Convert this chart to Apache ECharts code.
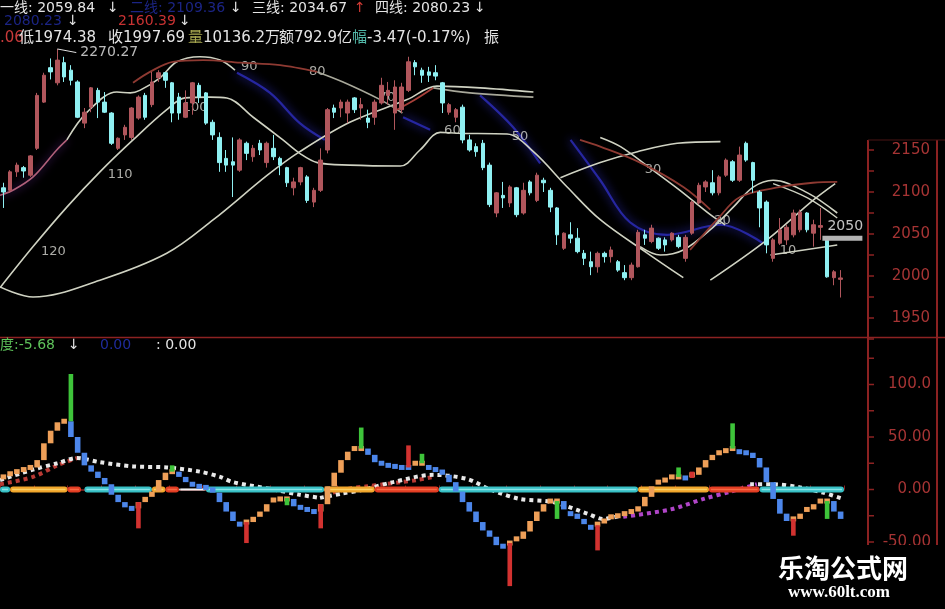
<!DOCTYPE html>
<html><head><meta charset="utf-8">
<script src="https://cdn.jsdelivr.net/npm/echarts@6/dist/echarts.min.js"></script>
<style>html,body{margin:0;padding:0;background:#000;}#c{width:945px;height:609px;}</style>
</head><body><div id="c"></div>
<script>
// ---------- price panel data (index daily bars) ----------
const categories = Array.from({length: 125}, (_, i) => String(i + 1));
const openVals = [2105,2102,2124,2129,2120,2152,2207,2248,2230,2254,
2245,2231,2182,2201,2221,2207,2194,2152,2168,2165,
2188,2215,2204,2236,2242,2230,2213,2189,2206,2227,
2218,2183,2165,2140,2136,2126,2158,2142,2158,2135,
2152,2140,2129,2105,2112,2118,2088,2102,2150,2200,
2200,2194,2212,2200,2188,2189,2206,2215,2194,2198,
2221,2254,2245,2243,2242,2230,2195,2189,2201,2162,
2154,2158,2132,2075,2096,2087,2105,2075,2112,2090,
2114,2102,2081,2033,2049,2045,2027,2017,2011,2027,
2023,2017,2004,1998,2011,2049,2041,2045,2043,2043,
2046,2021,2051,2087,2106,2111,2099,2120,2136,2114,
2158,2135,2100,2088,2021,2039,2043,2049,2055,2075,
2051,2058,2045,1998,1996];
const closeVals = [2100,2124,2132,2125,2143,2215,2239,2243,2257,2237,
2233,2189,2195,2224,2207,2195,2158,2164,2177,2200,
2213,2189,2231,2242,2233,2194,2194,2206,2230,2213,
2182,2168,2135,2132,2132,2162,2146,2152,2150,2158,
2142,2132,2111,2112,2129,2090,2102,2138,2198,2195,
2207,2207,2198,2204,2183,2207,2227,2221,2225,2225,
2255,2249,2239,2239,2238,2206,2204,2198,2162,2150,
2148,2129,2085,2099,2093,2106,2073,2102,2099,2120,
2111,2082,2049,2051,2045,2029,2021,2011,2027,2023,
2031,2007,1998,2013,2052,2045,2057,2033,2037,2051,
2035,2046,2088,2108,2112,2099,2118,2138,2114,2144,
2138,2114,2081,2037,2043,2055,2058,2075,2076,2055,
2061,2060,1999,2005,1997.69];
const lowVals = [2081,2099,2118,2117,2118,2150,2206,2234,2227,2231,
2227,2188,2176,2195,2188,2194,2156,2150,2162,2162,
2186,2186,2201,2231,2224,2183,2186,2188,2192,2206,
2180,2162,2124,2124,2094,2124,2138,2136,2144,2129,
2138,2120,2106,2096,2108,2087,2082,2100,2146,2188,
2189,2182,2194,2186,2176,2180,2204,2204,2174,2194,
2219,2239,2230,2231,2233,2194,2192,2183,2158,2148,
2142,2126,2082,2070,2081,2082,2070,2073,2096,2088,
2100,2076,2037,2031,2039,2027,2013,2001,2004,2016,
2016,2005,1995,1995,2010,2037,2039,2031,2029,2041,
2033,2017,2049,2085,2100,2096,2096,2118,2112,2112,
2136,2099,2058,2027,2017,2037,2037,2046,2052,2052,
2035,2043,1998,1989,1974.38];
const highVals = [2111,2126,2135,2131,2144,2218,2242,2259,2270.27,2261,
2251,2233,2200,2225,2224,2219,2195,2165,2180,2201,
2215,2218,2243,2245,2243,2231,2218,2221,2231,2230,
2219,2186,2171,2150,2165,2164,2160,2156,2162,2160,
2168,2142,2130,2117,2130,2120,2105,2152,2200,2204,
2210,2210,2213,2212,2198,2210,2236,2231,2233,2230,
2261,2257,2248,2249,2251,2231,2206,2200,2204,2168,
2158,2162,2135,2100,2112,2108,2106,2111,2114,2123,
2117,2105,2082,2052,2064,2057,2031,2029,2029,2029,
2035,2019,2013,2016,2055,2055,2061,2046,2046,2052,
2049,2049,2090,2111,2114,2126,2120,2140,2138,2154,
2160,2136,2102,2090,2045,2069,2061,2079,2079,2076,
2067,2081,2046,2007,2007];

// moving-average style curves: [bar position, price]
const lineW1 = [[-0.5,1986],[4.4,2035],[9.4,2082],[14.3,2124],[19.2,2162],[24.2,2198],[26.9,2212],[30.6,2213],[33.1,2212],[37.0,2189],[41.4,2162],[43.9,2146],[46.5,2135],[51.3,2132],[58.8,2131],[61.7,2150],[64.7,2171],[67.2,2170],[74.6,2169],[78.5,2148],[83.5,2106],[88.4,2067],[95.4,2027],[100.7,1998]];
const lineW2 = [[-0.5,1987],[4.4,1975],[14.3,1995],[24.2,2027],[31.1,2067],[39.1,2120],[43.9,2148],[51.3,2183],[59.8,2210],[64.2,2226],[70.6,2224],[78.5,2219]];
const lineW3a = [[-0.5,2096],[1.4,2102],[4.4,2118],[7.9,2150],[9.4,2162]];
const lineW3b = [[9.4,2162],[12.4,2195],[16.8,2219],[18.8,2218],[20.2,2221],[23.2,2236],[25.7,2255],[29.1,2261],[32.1,2257],[34.3,2245]];
const lineR1 = [[19.2,2230],[21.7,2243],[25.1,2255],[29.6,2257],[35.1,2254],[41.0,2251],[46.5,2243]];
const lineG1 = [[46.5,2243],[50.3,2231],[55.8,2210],[59.1,2194]];
const lineR2 = [[58.3,2198],[61.0,2210],[63.7,2224]];
const lineG2 = [[63.7,2224],[69.1,2218],[78.5,2213]];
const lineB1 = [[34.6,2242],[39.5,2218],[43.9,2182],[47.6,2162]];
const lineB2 = [[59.2,2189],[63.2,2174]];
const lineB3 = [[70.6,2215],[75.5,2177],[79.5,2134]];
const lineB4 = [[84.0,2162],[88.4,2114],[92.8,2064],[98.3,2049],[106.2,2061],[112.5,2039]];
const lineW4 = [[82.5,2117],[88.4,2135],[93.9,2148],[99.8,2158],[106.2,2160]];
const lineW5 = [[88.4,2165],[91.4,2154],[96.2,2126],[100.2,2102],[104.7,2073],[106.9,2061]];
const lineW6 = [[94.3,2035],[97.3,2025],[100.7,2031],[105.1,2058],[108.1,2082],[111.1,2106],[114.0,2114],[119.1,2099],[123.5,2075]];
const lineW7 = [[114.0,2110],[119.1,2093],[123.5,2069]];
const lineW8 = [[104.7,1995],[113.1,2043],[119.9,2090],[123.2,2110]];
const lineW9 = [[113.6,2025],[123.5,2037]];
const lineR3 = [[101.7,2031],[105.7,2067],[109.1,2094],[115.1,2106],[119.9,2111],[123.5,2112]];
const lineR4 = [[85.4,2162],[88.4,2154],[94.3,2135],[100.7,2106],[104.7,2079]];

const maLabelText = ['120','110','100','90','80','70','60','50','30','20','10'];
const maLabelX = [7.4,17.3,28.4,36.4,46.5,56.8,66.5,76.5,96.2,106.5,116.2];
const maLabelY = [2029,2121,2201,2249,2243,2212,2173,2166,2127,2066,2030];
const highMark = [[8,2270.27],[10.8,2266]];
const priceMarkLabel = '2050';
const priceMarkBar = [121.3, 2045];
const priceMarkText = [121.6, 2059];

// ---------- indicator panel data ----------
const stepVals = [12,15,17,19,21,28,44,56,64,65, 50,35,23,17,11,5,-5,-12,-17,-18,
-12,-7,-2,9,16,17,12,7,5,3, 2,-3,-12,-21,-30,-33,-31,-26,-21,-14,
-10,-9,-9,-16,-17,-19,-21,-14,3,16, 28,36,39,39,33,26,25,23,22,21,
21,25,25,21,19,14,7,-2,-12,-21, -31,-39,-45,-53,-54,-51,-47,-40,-30,-21,
-14,-11,-11,-19,-23,-28,-33,-36,-33,-30, -26,-25,-23,-21,-16,-7,3,7,9,12,
12,11,14,21,28,33,35,37,39,36, 35,30,21,7,-9,-23,-30,-28,-23,-19,
-14,-11,-11,-21,-28];
const spikeIdx  = [10,20,25,36,42,47,53,60,62,75,82,88,100,102,108,117,122];
const spikeFrom = [65,-12,17,-31,-8,-14,39,21,25,-51,-11,-34,12,11,39,-28,-11];
const spikeTo   = [110,-37,23,-51,-15,-37,59,42,34,-92,-28,-58,21,17,63,-44,-28];
const spikeKind = [1,0,1,0,1,0,1,0,1,0,1,0,1,0,1,0,1];
const bandStart = [-0.5,1,9.5,12,22,24,26,30,47.5,55,64.5,94,104.5,112];
const bandEnd   = [1,9.5,11.5,22,24,26,30,47.5,55,64.5,94,104.5,112,124.5];
const bandKind  = [0,1,2,0,1,2,3,0,1,2,0,1,2,0];
const dotsWhiteA = [[-0.5,9],[4.4,19],[8,25],[10.9,30],[14.3,26],[19.2,22],[24.2,21],[29.1,17],[32.1,12],[34,7],[40,0],[43.9,-5],[46.9,-8]];
const dotsRedA = [[-0.5,5],[4.4,12],[8,23],[10.9,30]];
const dotsWhiteB = [[46.9,-8],[50,-4],[53.5,0],[57.7,7],[63.7,14],[68.7,10],[72.1,0],[76.5,-9],[81.4,-12],[86.5,-23],[88.8,-28],[91.4,-25]];
const dotsRedB = [[48.8,-3],[51.3,1],[53.8,3],[56.3,5],[58.8,7],[61.2,9],[63.7,12]];
const dotsPurple = [[91.8,-26],[98.8,-19],[103.7,-9],[107.7,-2],[111.6,5]];
const dotsWhiteC = [[110.6,5],[114,5],[118,2],[121.4,-3],[124.4,-9]];

const priceTicks = [1925,1950,1975,2000,2025,2050,2075,2100,2125,2150];
const priceLabels = [1950,2000,2050,2100,2150];
const indTicks = [-100,-75,-50,-25,0,25,50,75,100,125];
const indLabels = [-50,0,50,100];

// ---------- build ----------
const candleData = openVals.map((o, i) => [o, closeVals[i], lowVals[i], highVals[i]]);
let lastDir = 1;
const stepData = stepVals.map((v, i) => {
  const p = i > 0 ? stepVals[i - 1] : v;
  if (v > p) lastDir = 1; else if (v < p) lastDir = -1;
  return [i, p, v, lastDir];
});
const spikeData = spikeIdx.map((x, i) => [x, spikeFrom[i], spikeTo[i], spikeKind[i]]);
const bandData = bandStart.map((s, i) => [s, bandEnd[i], bandKind[i]]);

const FONT = '"DejaVu Sans","Noto Sans CJK SC",sans-serif';
const WHITE_LINE = '#cfd2c2';
const RED_LINE = '#8e3a32';
const AXIS_RED = '#8c2222';
const LABEL_RED = '#a63434';

const annotationData = maLabelX.map((x, i) => ({
  value: [x, maLabelY[i]], name: maLabelText[i], z: 1
}));
annotationData.push({value: highMark[1], name: highVals[8].toFixed(2),
  label: {position: 'right', distance: 3, fontSize: 14, color: '#e8e8e8'}});
annotationData.push({value: priceMarkText, name: priceMarkLabel,
  label: {position: 'right', distance: 2, fontSize: 14, color: '#f2f2f2'}});

function curve(data, color, width, extra) {
  return Object.assign({
    type: 'line', xAxisIndex: 1, yAxisIndex: 0, data, smooth: 0.35,
    showSymbol: false, symbol: 'none', silent: true, z: 2,
    lineStyle: {color, width}
  }, extra || {});
}
function blueCurve(data) {
  return curve(data, '#2b2bb5', 2.2, {lineStyle: {color: '#2b2bb5', width: 2.2, shadowColor: '#3b3bff', shadowBlur: 10, opacity: 0.85}, z: 1});
}
function dots(data, color) {
  return {type: 'line', xAxisIndex: 3, yAxisIndex: 1, data, smooth: 0.3, showSymbol: false, symbol: 'none', silent: true, z: 3,
    lineStyle: {color, width: 4, type: [4, 4]}};
}
function tickSeries(values, xIdx, yIdx) {
  return {
    type: 'custom', xAxisIndex: xIdx, yAxisIndex: yIdx, silent: true, z: 20, clip: false,
    data: values.map(v => [124.5, v]), encode: {x: 0, y: 1},
    renderItem: (params, api) => {
      const p = api.coord([api.value(0), api.value(1)]);
      return {type: 'line', shape: {x1: p[0] + 24, y1: p[1], x2: p[0] + 30, y2: p[1]}, style: {stroke: AXIS_RED, lineWidth: 1.5}};
    }
  };
}

const series = [
  blueCurve(lineB1), blueCurve(lineB2), blueCurve(lineB3), blueCurve(lineB4),
  curve(lineW1, WHITE_LINE, 1.6), curve(lineW2, WHITE_LINE, 1.6),
  curve(lineW3a, '#b0607a', 1.6, {lineStyle: {color: '#b0607a', width: 1.6, shadowColor: '#6a2a9a', shadowBlur: 8}}),
  curve(lineW3b, WHITE_LINE, 1.6),
  curve(lineR1, RED_LINE, 1.8), curve(lineG1, '#a8a89a', 1.6), curve(lineR2, '#a8403a', 1.8), curve(lineG2, '#a8a89a', 1.6),
  curve(lineW4, WHITE_LINE, 1.6), curve(lineW5, WHITE_LINE, 1.6), curve(lineW6, WHITE_LINE, 1.6),
  curve(lineW7, WHITE_LINE, 1.4), curve(lineW8, WHITE_LINE, 1.6), curve(lineW9, WHITE_LINE, 1.6),
  curve(lineR3, RED_LINE, 1.8), curve(lineR4, RED_LINE, 1.8),
  {
    type: 'scatter', xAxisIndex: 1, yAxisIndex: 0, data: annotationData, symbolSize: 2, silent: true, z: 1,
    itemStyle: {color: 'rgba(0,0,0,0)'},
    label: {show: true, position: 'inside', formatter: p => p.name, color: '#d6d6d0', fontSize: 13, fontFamily: FONT}
  },
  {
    type: 'candlestick', xAxisIndex: 0, yAxisIndex: 0, data: candleData, barWidth: 4, z: 3, silent: true,
    itemStyle: {color: '#b0565c', color0: '#8ff0f2', borderColor: '#b0565c', borderColor0: '#8ff0f2', borderWidth: 1}
  },
  curve(highMark, '#e0e0e0', 1, {smooth: false, z: 4}),
  {
    type: 'custom', xAxisIndex: 1, yAxisIndex: 0, silent: true, z: 4, clip: false,
    data: [priceMarkBar], encode: {x: 0, y: 1},
    renderItem: (params, api) => {
      const p = api.coord([api.value(0), api.value(1)]);
      return {type: 'rect', shape: {x: p[0], y: p[1] - 2.5, width: 40, height: 5}, style: {fill: '#b4b4b4'}};
    }
  },
  tickSeries(priceTicks, 1, 0),
  // indicator panel
  dots(dotsRedA, '#b83a34'), dots(dotsWhiteA, '#e8e8e8'), dots(dotsRedB, '#b83a34'), dots(dotsWhiteB, '#e8e8e8'),
  dots(dotsPurple, '#b045c8'), dots(dotsWhiteC, '#e8e8e8'),
  {
    type: 'custom', xAxisIndex: 3, yAxisIndex: 1, data: bandData, silent: true, z: 4,
    encode: {x: [0, 1], y: 2},
    renderItem: (params, api) => {
      const k = api.value(2);
      const p1 = api.coord([api.value(0), 0]);
      const p2 = api.coord([api.value(1), 0]);
      const fills = ['#36bfc4', '#f0a52a', '#e23c22', '#cfcfcf'];
      const inner = ['#a6f2f4', '#ffe07a', '#ff7a52', '#ffffff'];
      const h = k === 3 ? 2 : 6;
      const w = Math.max(0, p2[0] - p1[0]);
      return {type: 'group', children: [
        {type: 'rect', shape: {x: p1[0], y: p1[1] - h / 2, width: w, height: h, r: h / 2}, style: {fill: fills[k]}},
        {type: 'rect', shape: {x: p1[0] + 2, y: p1[1] - 0.8, width: Math.max(0, w - 4), height: 1.6}, style: {fill: inner[k], opacity: 0.75}}
      ]};
    }
  },
  {
    type: 'custom', xAxisIndex: 3, yAxisIndex: 1, data: stepData, silent: true, z: 5,
    encode: {x: 0, y: [1, 2]},
    renderItem: (params, api) => {
      const x = api.value(0);
      const a = api.coord([x, api.value(1)]);
      const b = api.coord([x, api.value(2)]);
      const w = 5.6;
      let y0 = Math.min(a[1], b[1]);
      let h = Math.abs(a[1] - b[1]);
      if (h < 5) { y0 = b[1] - 2.5; h = 5; }
      return {type: 'rect', shape: {x: a[0] - w / 2, y: y0, width: w, height: h},
        style: {fill: api.value(3) > 0 ? '#ee9f58' : '#4c86ea'}};
    }
  },
  {
    type: 'custom', xAxisIndex: 3, yAxisIndex: 1, data: spikeData, silent: true, z: 6,
    encode: {x: 0, y: [1, 2]},
    renderItem: (params, api) => {
      const x = api.value(0);
      const a = api.coord([x, api.value(1)]);
      const b = api.coord([x, api.value(2)]);
      const w = 4.6;
      return {type: 'rect', shape: {x: a[0] - w / 2, y: Math.min(a[1], b[1]), width: w, height: Math.abs(a[1] - b[1])},
        style: {fill: api.value(3) ? '#3ec43a' : '#d23230'}};
    }
  },
  tickSeries(indTicks, 3, 1)
];

function txt(x, y, text, fill, size) {
  return {type: 'text', x, y, z: 50, silent: true,
    style: {text, fill, font: (size || 14) + 'px ' + FONT, verticalAlign: 'middle'}};
}
function blurTxt(x, y, text, fill, size) {
  return {type: 'text', x, y, z: 50, silent: true,
    style: {text, fill, font: (size || 14) + 'px ' + FONT, verticalAlign: 'middle', shadowColor: fill, shadowBlur: 6, opacity: 0.75}};
}

const graphic = [
  // frame lines
  {type: 'line', z: 20, silent: true, shape: {x1: 0, y1: 337.5, x2: 945, y2: 337.5}, style: {stroke: AXIS_RED, lineWidth: 1.5}},
  {type: 'line', z: 20, silent: true, shape: {x1: 868, y1: 140, x2: 868, y2: 609}, style: {stroke: AXIS_RED, lineWidth: 2}},
  {type: 'line', z: 20, silent: true, shape: {x1: 937, y1: 140, x2: 937, y2: 609}, style: {stroke: AXIS_RED, lineWidth: 2}},
  {type: 'line', z: 20, silent: true, shape: {x1: 868, y1: 140, x2: 945, y2: 140}, style: {stroke: '#4a1414', lineWidth: 1}},
  // header rows
  txt(0, 8, '一线: 2059.84', '#e4e4e4', 14), txt(107, 8, '↓', '#e4e4e4', 14),
  blurTxt(130, 8, '二线: 2109.36', '#2430b0', 14), txt(230, 8, '↓', '#e4e4e4', 14),
  txt(252, 8, '三线: 2034.67', '#e4e4e4', 14), txt(354, 8, '↑', '#d23a34', 14),
  txt(375, 8, '四线: 2080.23', '#e4e4e4', 14), txt(474, 8, '↓', '#e4e4e4', 14),
  blurTxt(4, 21, '2080.23', '#2430b0', 14), txt(67, 21, '↓', '#e4e4e4', 14),
  txt(118, 21, '2160.39', '#c83232', 14), txt(179, 21, '↓', '#e4e4e4', 14),
  txt(0, 38, '.06', '#c83a3a', 15), txt(19, 38, '低1974.38', '#e4e4e4', 15),
  txt(108, 38, '收1997.69', '#e4e4e4', 15), txt(188, 38, '量', '#a8a850', 15),
  txt(203, 38, '10136.2万', '#e4e4e4', 15), txt(279, 38, '额792.9亿', '#e4e4e4', 15),
  txt(352, 38, '幅', '#52b8a8', 15), txt(367, 38, '-3.47(-0.17%)', '#e4e4e4', 15),
  txt(484, 38, '振', '#e4e4e4', 15),
  // indicator header
  txt(0, 345, '度:-5.68', '#5ec35a', 14), txt(68, 345, '↓', '#e4e4e4', 14),
  blurTxt(100, 345, '0.00', '#2a3ad0', 14), txt(156, 345, ': 0.00', '#e4e4e4', 14),
  // watermark
  {type: 'rect', z: 60, silent: true, shape: {x: 768, y: 545, width: 177, height: 64}, style: {fill: '#000'}},
  {type: 'text', z: 61, silent: true, x: 843, y: 568,
    style: {text: '乐淘公式网', fill: '#ffffff', font: 'bold 26px "Noto Sans CJK SC",sans-serif', align: 'center', verticalAlign: 'middle'}},
  {type: 'text', z: 61, silent: true, x: 839, y: 593,
    style: {text: 'www.60lt.com', fill: '#ffffff', font: 'bold 17px "Liberation Serif",serif', align: 'center', verticalAlign: 'middle'}}
];

const option = {
  backgroundColor: '#000',
  animation: false,
  grid: [
    {left: 0, top: 3, width: 844, height: 336},
    {left: 0, top: 332, width: 844, height: 262.5}
  ],
  xAxis: [
    {type: 'category', gridIndex: 0, data: categories, boundaryGap: true, show: false},
    {type: 'value', gridIndex: 0, min: -0.5, max: 124.5, show: false},
    {type: 'category', gridIndex: 1, data: categories, boundaryGap: true, offset: 8.5,
      axisLine: {show: true, lineStyle: {color: AXIS_RED, width: 1.5}},
      axisTick: {show: true, inside: true, length: 4, interval: 4, lineStyle: {color: AXIS_RED}},
      axisLabel: {show: false}, splitLine: {show: false}},
    {type: 'value', gridIndex: 1, min: -0.5, max: 124.5, show: false}
  ],
  yAxis: [
    {type: 'value', gridIndex: 0, min: 1925, max: 2325, position: 'right', offset: 24,
      axisLine: {show: false}, splitLine: {show: false}, axisTick: {show: false},
      axisLabel: {customValues: priceLabels, color: LABEL_RED, fontSize: 15, fontFamily: FONT, align: 'right', margin: 62,
        formatter: v => String(v)}},
    {type: 'value', gridIndex: 1, min: -100, max: 150, position: 'right', offset: 24,
      axisLine: {show: false}, splitLine: {show: false}, axisTick: {show: false},
      axisLabel: {customValues: indLabels, color: LABEL_RED, fontSize: 15, fontFamily: FONT, align: 'right', margin: 63,
        formatter: v => (v === 100 ? '100.0' : v.toFixed(2))}}
  ],
  series,
  graphic
};

const chart = echarts.init(document.getElementById('c'), null, {renderer: 'canvas'});
chart.setOption(option);
</script>
</body></html>
